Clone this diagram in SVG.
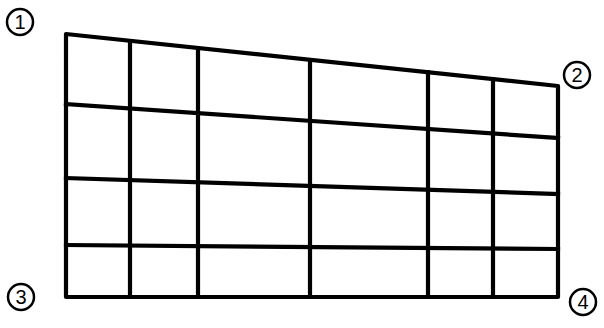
<svg xmlns="http://www.w3.org/2000/svg" width="604" height="328" viewBox="0 0 604 328">
<style>
.ln{fill:none;stroke:#000;stroke-width:4.2;stroke-linecap:square;stroke-linejoin:round}
.c{fill:none;stroke:#000;stroke-width:2.5}
.t{font-family:"Liberation Sans",Arial,sans-serif;font-size:20px;text-anchor:middle;fill:#000}
</style>
<rect width="604" height="328" fill="#fff"/>
<g id="mesh">
<path class="ln" d="M66,34 L558,86 L558,297 L66,297 Z"/>
<path class="ln" d="M66,104 L558,138"/>
<path class="ln" d="M66,178 L558,194"/>
<path class="ln" d="M66,245 L558,249"/>
<path class="ln" d="M130,41 L130,297"/>
<path class="ln" d="M198,48 L198,297"/>
<path class="ln" d="M310,61 L310,297"/>
<path class="ln" d="M428,72 L428,297"/>
<path class="ln" d="M493,79 L493,297"/>
</g>
<g id="n1"><circle class="c" cx="20" cy="22" r="13"/><text class="t" x="20" y="29">1</text></g>
<g id="n2"><circle class="c" cx="577" cy="75" r="13"/><text class="t" x="577" y="82">2</text></g>
<g id="n3"><circle class="c" cx="21" cy="297" r="13"/><text class="t" x="21" y="304">3</text></g>
<g id="n4"><circle class="c" cx="583" cy="302" r="13"/><text class="t" x="583" y="309">4</text></g>
</svg>
